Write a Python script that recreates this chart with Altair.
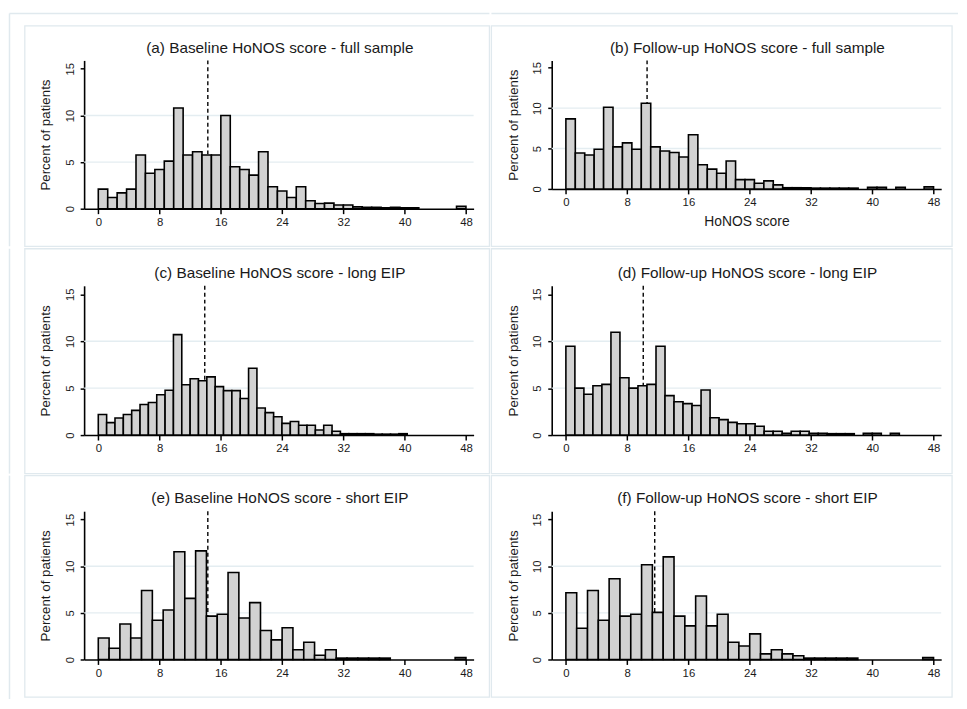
import altair as alt
import pandas as pd

# ---------------- data (percent of patients per histogram bin) ----------------
titles = [
    "(a) Baseline HoNOS score - full sample",
    "(b) Follow-up HoNOS score - full sample",
    "(c) Baseline HoNOS score - long EIP",
    "(d) Follow-up HoNOS score - long EIP",
    "(e) Baseline HoNOS score - short EIP",
    "(f) Follow-up HoNOS score - short EIP",
]

pct_a = [2.1, 1.2, 1.7, 2.1, 5.75, 3.8, 4.2, 5.1, 10.8, 5.75, 6.1, 5.75, 5.75, 10.0,
         4.5, 4.2, 3.6, 6.1, 2.35, 1.9, 1.2, 2.35, 0.85, 0.55, 0.6, 0.4, 0.4, 0.2,
         0.15, 0.15, 0.1, 0.15, 0.1, 0.1, 0, 0, 0, 0, 0.25]
pct_b = [8.67, 4.45, 4.2, 4.9, 10.1, 5.2, 5.7, 4.9, 10.6, 5.2, 4.7, 4.5, 3.95, 6.7,
         3.0, 2.45, 1.95, 3.45, 1.15, 1.15, 0.7, 1.0, 0.5, 0.15, 0.15, 0.15, 0.1,
         0.1, 0.1, 0.1, 0.1, 0, 0.2, 0.2, 0, 0.2, 0, 0, 0.25]
pct_c = [2.2, 1.33, 1.82, 2.2, 2.63, 3.26, 3.47, 4.3, 4.77, 10.7, 5.37, 6.0, 5.79,
         6.2, 5.16, 4.74, 4.74, 3.9, 7.12, 2.88, 2.39, 1.96, 1.25, 1.45, 1.05, 1.05,
         0.55, 1.05, 0.4, 0.15, 0.15, 0.15, 0.15, 0.1, 0.1, 0.1, 0.15]
pct_d = [9.47, 5.0, 4.35, 5.25, 5.4, 10.95, 6.1, 5.0, 5.25, 5.4, 9.47, 4.2, 3.55,
         3.35, 3.15, 4.8, 1.85, 1.65, 1.35, 1.2, 1.2, 0.95, 0.4, 0.4, 0.2, 0.4, 0.4,
         0.2, 0.2, 0.15, 0.15, 0.15, 0, 0.2, 0.2, 0, 0.2]
pct_e = [2.3, 1.2, 3.8, 2.3, 7.4, 4.2, 5.3, 11.55, 6.55, 11.65, 4.65, 4.85, 9.33,
         4.45, 6.1, 3.1, 2.1, 3.4, 1.05, 1.85, 0.45, 1.05, 0.15, 0.15, 0.15, 0.15,
         0.15, 0, 0, 0, 0, 0, 0, 0.2]
pct_f = [7.15, 3.35, 7.4, 4.2, 8.65, 4.65, 4.85, 10.15, 5.05, 11.0, 4.65, 3.6, 6.8,
         3.6, 4.85, 1.85, 1.45, 2.75, 0.6, 1.05, 0.6, 0.4, 0.15, 0.15, 0.15, 0.15,
         0.15, 0, 0, 0, 0, 0, 0, 0.2]

bin_widths = [48 / 39, 48 / 39, 1.09, 1.1766, 48 / 34, 48 / 34]
mean_scores = [14.3, 10.6, 13.9, 10.1, 14.3, 11.6]

x_ticks = [0, 8, 16, 24, 32, 40, 48]
y_ticks = [0, 5, 10, 15]
grid_values = [5, 10]

# ---------------- style ----------------
FONT = "Liberation Sans"
TXT = "#1a1a1a"
FRAME = "#e0e9ee"
GRID = "#e4edf1"
BAR_FILL = "#d2d2d2"
XDOM = [-1.85, 49]
YDOM = [0, 15.9]
W = 394
TOP_Y = -47.5


def panel(title, pct, w, mean, height, xtitle, frame, outer_left, outer_top):
    df = pd.DataFrame({
        "start": [i * w for i in range(len(pct))],
        "end": [(i + 1) * w for i in range(len(pct))],
        "pct": pct,
    })
    xs = alt.Scale(domain=XDOM, nice=False, zero=False)
    ys = alt.Scale(domain=YDOM, nice=False, zero=False)

    xaxis_kw = dict(values=x_ticks, grid=False, labelAngle=0, tickSize=5, labelPadding=3,
                    domainColor="black", tickColor="black", domainWidth=1.6, tickWidth=1.5,
                    labelFontSize=11.5, labelColor=TXT, labelFlush=False)
    if xtitle:
        xaxis = alt.Axis(title=xtitle, titleFontSize=14, titleFontWeight="normal",
                         titleColor=TXT, titlePadding=7, **xaxis_kw)
    else:
        xaxis = alt.Axis(title=None, **xaxis_kw)
    yaxis = alt.Axis(values=y_ticks, grid=False, title="Percent of patients",
                     labelAngle=270, labelAlign="center", labelBaseline="bottom",
                     tickSize=4, labelPadding=5, domainColor="black", tickColor="black",
                     domainWidth=1.6, tickWidth=1.5, labelFontSize=11.5, labelColor=TXT,
                     titleFontSize=13.5, titleFontWeight="normal", titleColor=TXT,
                     titlePadding=12)

    grid = alt.Chart(pd.DataFrame({"g": grid_values})).mark_rule(
        color=GRID, strokeWidth=1.4
    ).encode(
        y=alt.Y("g:Q", scale=ys, axis=yaxis),
        x=alt.value(0), x2=alt.value(W),
    )
    meanline = alt.Chart(pd.DataFrame({"m": [mean]})).mark_rule(
        color="black", strokeWidth=1.4, strokeDash=[4, 3]
    ).encode(
        x=alt.X("m:Q", scale=xs, axis=xaxis),
        y=alt.value(0), y2=alt.value(height),
    )
    bars = alt.Chart(df).transform_filter("datum.pct > 0").mark_rect(
        fill=BAR_FILL, stroke="black", strokeWidth=1.6
    ).encode(
        x=alt.X("start:Q", scale=xs, axis=xaxis),
        x2="end:Q",
        y=alt.Y("pct:Q", scale=ys, axis=yaxis),
        y2=alt.datum(0),
    )
    fx1, fx2, fy1, fy2 = frame
    one = pd.DataFrame({"t": [title]})
    box = alt.Chart(one).mark_rect(
        fillOpacity=0, stroke=FRAME, strokeWidth=1.3
    ).encode(x=alt.value(fx1), x2=alt.value(fx2), y=alt.value(fy1), y2=alt.value(fy2))
    ttl = alt.Chart(one).mark_text(
        font=FONT, fontSize=15.5, color=TXT, align="center", baseline="middle"
    ).encode(text="t:N", x=alt.value(W / 2 + 1), y=alt.value(-13))
    layers = [grid, meanline, bars, box, ttl]
    if outer_top is not None:
        layers.append(alt.Chart(one).mark_rule(color=FRAME, strokeWidth=1.5).encode(
            x=alt.value(outer_top[0]), x2=alt.value(outer_top[1]), y=alt.value(TOP_Y)))
    if outer_left is not None:
        layers.append(alt.Chart(one).mark_rule(color=FRAME, strokeWidth=1.5).encode(
            x=alt.value(-75.5), y=alt.value(outer_left[0]), y2=alt.value(outer_left[1])))
    return alt.layer(*layers).properties(width=W, height=height)


pa = panel(titles[0], pct_a, bin_widths[0], mean_scores[0], 150, None,
           (-60, 410, -35, 188), (TOP_Y, 188), (-75.5, 410))
pb = panel(titles[1], pct_b, bin_widths[1], mean_scores[1], 130, "HoNOS score",
           (-61, 405, -35, 188), None, (-61, 411))
pc = panel(titles[2], pct_c, bin_widths[2], mean_scores[2], 151, None,
           (-60, 410, -37.5, 190), (-37.5, 190), None)
pd_ = panel(titles[3], pct_d, bin_widths[3], mean_scores[3], 151, None,
            (-61, 405, -37.5, 190), None, None)
pe = panel(titles[4], pct_e, bin_widths[4], mean_scores[4], 150, None,
           (-60, 410, -36, 188), (-36, 190), None)
pf = panel(titles[5], pct_f, bin_widths[5], mean_scores[5], 150, None,
           (-61, 405, -36, 188), None, None)

chart = alt.vconcat(
    alt.hconcat(pa, pb, spacing=0),
    alt.hconcat(pc, pd_, spacing=0),
    alt.hconcat(pe, pf, spacing=0),
    spacing=0,
).properties(
    padding=0, background="white"
).configure_view(
    strokeWidth=0
).configure_axis(
    labelFont=FONT, titleFont=FONT
)

chart.save("out.html", embed_options={"renderer": "svg", "actions": False})
